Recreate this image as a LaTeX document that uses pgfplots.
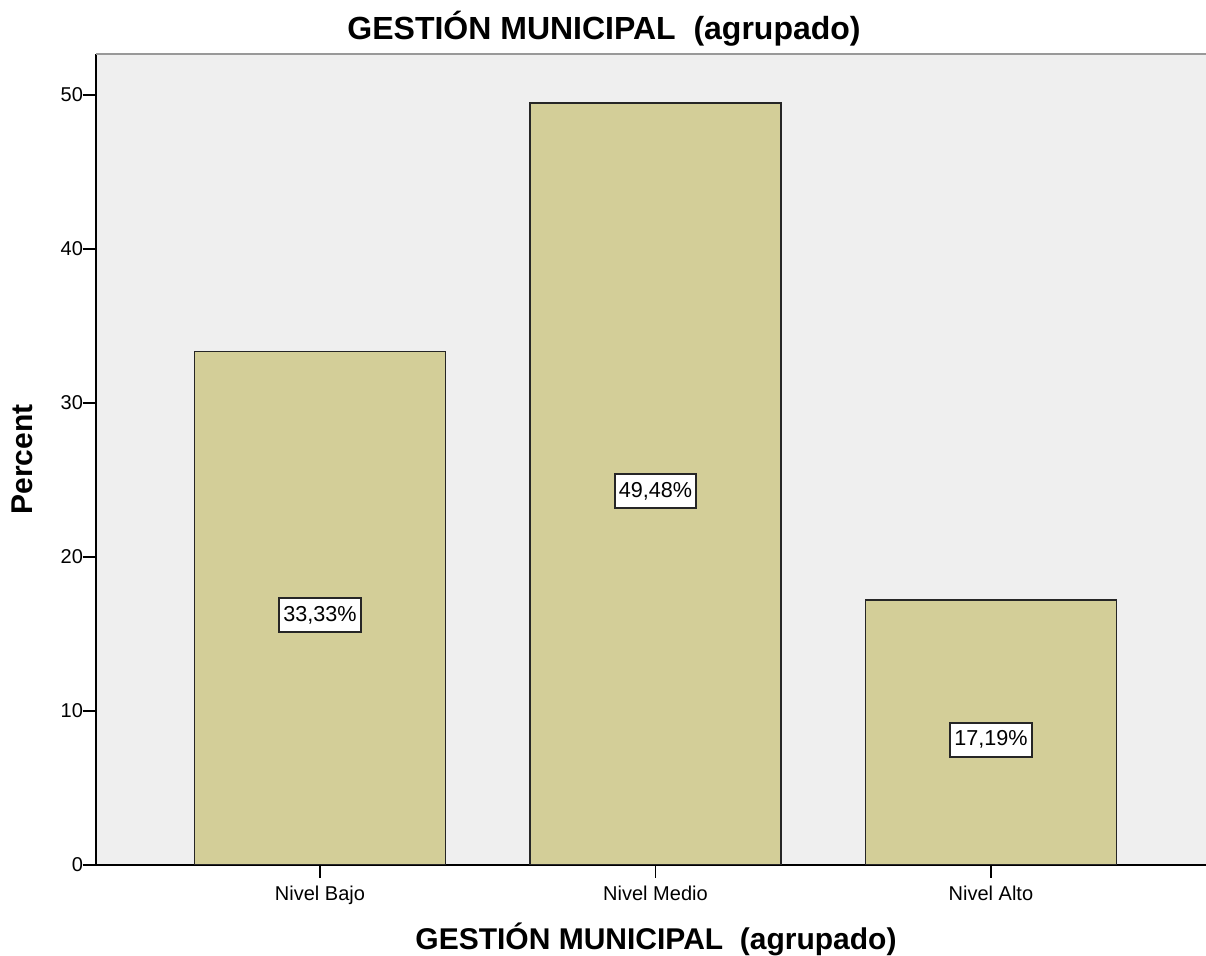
\documentclass[border=0pt]{standalone}
\usepackage{fontspec}
\setmainfont{Liberation Sans}
\usepackage{pgfplots}
\usepackage{pgfplotstable}
\pgfplotsset{compat=1.18}

\definecolor{bgray}{HTML}{EFEFEF}
\definecolor{barfill}{HTML}{D3CE98}

\pgfplotstableread{
x pct
0 33.33
1 49.48
2 17.19
}\gestion

\begin{document}
\begin{tikzpicture}
\begin{axis}[
    scale only axis,
    width=555pt, height=405.5pt,
    xmin=-0.6677, xmax=2.641,
    ymin=0, ymax=52.66,
    axis x line*=bottom, axis y line*=left,
    axis line style={line width=1pt, -},
    axis background/.style={fill=bgray},
    xtick={0,1,2},
    xticklabels={Nivel Bajo, Nivel Medio, Nivel Alto},
    ytick={0,10,20,30,40,50},
    tick align=outside,
    major tick length=6.5pt,
    tick style={black, line width=0.8pt},
    /pgf/number format/assume math mode=true,
    tick label style={font=\fontsize{10}{12}\selectfont},
    xticklabel style={anchor=base, yshift=-11.5pt},
    yticklabel style={xshift=3.5pt},
    title={GESTIÓN MUNICIPAL\ \ (agrupado)},
    title style={font=\bfseries\fontsize{16}{18}\selectfont, at={(rel axis cs:0.4577,1)}, anchor=base, yshift=1pt},
    xlabel={GESTIÓN MUNICIPAL\ \ (agrupado)},
    xlabel style={font=\bfseries\fontsize{15}{18}\selectfont, at={(rel axis cs:0.5045,0)}, anchor=base, yshift=-42.5pt},
    ylabel={Percent},
    ylabel style={font=\bfseries\fontsize{15}{18}\selectfont, at={(rel axis cs:0,0.5)}, anchor=center, yshift=37pt},
]
\addplot[ybar, bar width=125.5pt, fill=barfill, draw=black!85, line width=0.8pt]
    table[x=x, y=pct] {\gestion};
\addplot[only marks, mark=none, point meta=explicit,
    nodes near coords={\pgfmathprintnumber[fixed,fixed zerofill,precision=2,use comma]{\pgfplotspointmeta}\%},
    nodes near coords style={anchor=center, yshift=-3.5pt, fill=white, draw=black!85, line width=1pt,
        inner xsep=2pt, inner ysep=4pt, font=\fontsize{10.8}{12}\selectfont}]
    table[x=x, y expr=\thisrow{pct}/2, meta=pct] {\gestion};
\draw[gray!80, line width=1.2pt] (rel axis cs:0,1) -- (rel axis cs:1,1);
\coordinate (sw) at (rel axis cs:0,0);
\coordinate (ne) at (rel axis cs:1,1);
\end{axis}
\pgfresetboundingbox
\path[use as bounding box] ([shift={(-48pt,-45.5pt)}]sw) rectangle ([shift={(0pt,27pt)}]ne);
\end{tikzpicture}
\end{document}
